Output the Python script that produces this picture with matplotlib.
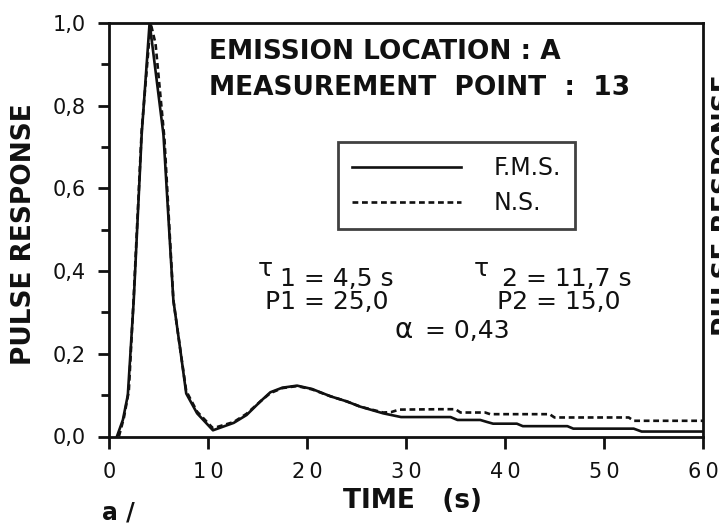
import matplotlib
matplotlib.use("Agg")
import matplotlib.pyplot as plt
from matplotlib.ticker import FixedLocator, MultipleLocator

# ---- data ----
t_fms = [0.8, 1.4, 1.9, 2.5, 3.3, 4.1, 5.5, 6.5, 7.2, 7.8, 8.9, 10.5, 12.6, 13.9,
         15.3, 16.3, 17.5, 19.0, 20.5, 22.4, 24.0, 25.4, 27.7, 29.5, 34.5, 35.2,
         37.5, 38.2, 38.8, 41.2, 41.8, 46.3, 46.9, 53.0, 53.8, 60.0]
y_fms = [0.0, 0.04, 0.10, 0.33, 0.73, 1.0, 0.73, 0.33, 0.21, 0.104, 0.056, 0.015,
         0.033, 0.052, 0.085, 0.107, 0.118, 0.123, 0.115, 0.097, 0.085, 0.072,
         0.056, 0.047, 0.047, 0.040, 0.040, 0.035, 0.031, 0.031, 0.025, 0.025,
         0.019, 0.019, 0.012, 0.012]

t_ns = [1.0, 1.5, 2.0, 2.5, 3.3, 4.2, 4.7, 5.6, 6.5, 7.2, 7.8, 8.9, 10.5, 12.6,
        13.9, 15.3, 16.3, 17.5, 19.0, 20.5, 22.4, 24.0, 25.4, 27.7, 28.5, 29.3,
        33.5, 35.0, 35.5, 38.0, 38.5, 44.5, 45.0, 52.5, 53.0, 60.0]
y_ns = [0.0, 0.045, 0.11, 0.34, 0.74, 1.0, 0.95, 0.72, 0.33, 0.21, 0.11, 0.06,
        0.02, 0.035, 0.055, 0.085, 0.105, 0.117, 0.122, 0.114, 0.097, 0.085,
        0.072, 0.058, 0.059, 0.065, 0.066, 0.066, 0.058, 0.058, 0.054, 0.054,
        0.046, 0.046, 0.038, 0.038]

series_labels = ["F.M.S.", "N.S."]
x_ticks = [0, 10, 20, 30, 40, 50, 60]
x_tick_labels = ["0", "1\u20090", "2\u20090", "3\u20090", "4\u20090", "5\u20090", "6\u20090"]
y_ticks = [0.0, 0.2, 0.4, 0.6, 0.8, 1.0]
y_tick_labels = ["0,0", "0,2", "0,4", "0,6", "0,8", "1,0"]

title_lines = ["EMISSION LOCATION : A", "MEASUREMENT  POINT  :  13"]
x_label = "TIME   (s)"
y_label = "PULSE RESPONSE"
panel_label = "a /"

# ---- figure ----
plt.rcParams['font.family'] = ['DejaVu Sans']
W, H = 719, 524
fig = plt.figure(figsize=(W / 100, H / 100), dpi=100)
fig.patch.set_facecolor('white')
ax = fig.add_axes([109 / W, (H - 436.5) / H, 594 / W, 413.5 / H])

ink = '#111111'
ax.plot(t_fms, y_fms, color=ink, lw=1.9, solid_joinstyle='round', label=series_labels[0])
ax.plot(t_ns, y_ns, color=ink, lw=1.9, linestyle=(0, (2.2, 1.4)), label=series_labels[1])

ax.set_xlim(0, 60)
ax.set_ylim(0, 1)
for s in ax.spines.values():
    s.set_linewidth(2.0)
    s.set_color(ink)

ax.xaxis.set_major_locator(FixedLocator(x_ticks))
ax.set_xticklabels(x_tick_labels)
ax.yaxis.set_major_locator(FixedLocator(y_ticks))
ax.set_yticklabels(y_tick_labels)
ax.yaxis.set_minor_locator(MultipleLocator(0.1))
ax.tick_params(axis='x', which='major', direction='out', length=8.5, width=2.0,
               labelsize=15, pad=10, colors=ink)
ax.tick_params(axis='y', which='major', direction='out', length=8, width=2.0,
               labelsize=15, pad=9, colors=ink)
ax.tick_params(axis='y', which='minor', direction='out', length=6, width=2.0, colors=ink)

# title block
ax.text(10.1, 0.930, title_lines[0], fontsize=19, fontweight='bold', ha='left', va='center', color=ink)
ax.text(10.1, 0.842, title_lines[1], fontsize=19, fontweight='bold', ha='left', va='center', color=ink)

# parameters
ax.text(15.0, 0.405, "τ", fontsize=18, ha='left', va='center', color=ink)
ax.text(17.3, 0.382, "1 = 4,5 s", fontsize=18, ha='left', va='center', color=ink)
ax.text(36.8, 0.405, "τ", fontsize=18, ha='left', va='center', color=ink)
ax.text(39.7, 0.382, "2 = 11,7 s", fontsize=18, ha='left', va='center', color=ink)
ax.text(15.8, 0.325, "P1 = 25,0", fontsize=18, ha='left', va='center', color=ink)
ax.text(39.2, 0.325, "P2 = 15,0", fontsize=18, ha='left', va='center', color=ink)
ax.text(28.8, 0.258, "α", fontsize=20, ha='left', va='center', color=ink)
ax.text(31.9, 0.255, "= 0,43", fontsize=18, ha='left', va='center', color=ink)

# legend
leg = ax.legend(loc='upper left', bbox_to_anchor=((338 - 109) / 594, (436.5 - 142) / 413.5),
                fontsize=17, handlelength=4.6, handletextpad=1.4, borderpad=0.6,
                labelspacing=0.45, frameon=True, fancybox=False, borderaxespad=0.0)
leg.get_frame().set_edgecolor(ink)
leg.get_frame().set_linewidth(2.0)
for txt in leg.get_texts():
    txt.set_color(ink)

# axis labels
fig.text(24 / W, 1 - 234 / H, y_label, rotation=90, fontsize=19, fontweight='bold',
         ha='center', va='center', color=ink)
fig.text(343 / W, 1 - 501 / H, x_label, fontsize=19, fontweight='bold',
         ha='left', va='center', color=ink)
fig.text(102 / W, 1 - 520 / H, panel_label, fontsize=17, fontweight='bold',
         ha='left', va='baseline', color=ink)
# clipped label of the neighbouring panel at the right edge (as in the reference)
fig.text(712 / W, 1 - 205 / H, y_label, rotation=90, fontsize=19, fontweight='bold',
         ha='left', va='center', color=ink)

fig.savefig("out.png", dpi=100, facecolor='white')
